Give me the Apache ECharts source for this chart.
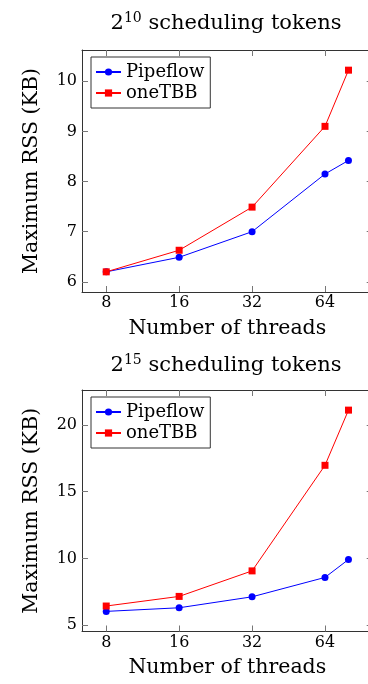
<!DOCTYPE html>
<html>
<head>
<meta charset="utf-8">
<script src="https://cdn.jsdelivr.net/npm/echarts@6/dist/echarts.min.js"></script>
<style>
html,body{margin:0;padding:0;background:#fff;}
#chart{width:368px;height:684px;}
</style>
</head>
<body>
<div id="chart"></div>
<script>
// ---- data ----
const threads = [8, 16, 32, 64, 80];
const pipeflow10 = [6.2, 6.49, 7.0, 8.15, 8.42];
const onetbb10 = [6.2, 6.63, 7.49, 9.1, 10.22];
const pipeflow15 = [6.04, 6.31, 7.13, 8.58, 9.92];
const onetbb15 = [6.44, 7.16, 9.07, 16.97, 21.1];
const xTicks = [8, 16, 32, 64];
const yTicks10 = [6, 7, 8, 9, 10];
const yTicks15 = [5, 10, 15, 20];
const seriesNames = ['Pipeflow', 'oneTBB'];
const titles = [['2', '10', ' scheduling tokens'], ['2', '15', ' scheduling tokens']];
const xName = 'Number of threads';
const yName = 'Maximum RSS (KB)';

const FONT = 'DejaVu Serif';

function enlarge(vals) {
  const lo = Math.min.apply(null, vals), hi = Math.max.apply(null, vals);
  const d = (hi - lo) * 0.1;
  return [lo - d, hi + d];
}
const lx = enlarge(threads.map(v => Math.log2(v)));
const xMin = Math.pow(2, lx[0]), xMax = Math.pow(2, lx[1]);

const panels = [
  { p: pipeflow10, o: onetbb10, yt: yTicks10, top: 50, height: 242, title: titles[0], titleY: 24, legendTop: 57 },
  { p: pipeflow15, o: onetbb15, yt: yTicks15, top: 390, height: 241.5, title: titles[1], titleY: 366, legendTop: 397 }
];

const grid = [], xAxis = [], yAxis = [], series = [], legend = [], graphic = [];
const lineColor = '#333';
const tickColor = '#777';

panels.forEach((pn, i) => {
  grid.push({ left: 82, top: pn.top, width: 290.7, height: pn.height, containLabel: false, outerBoundsMode: 'none' });
  const yr = enlarge(pn.p.concat(pn.o));
  const baseX = {
    gridIndex: i, type: 'log', logBase: 2, min: xMin, max: xMax,
    axisLine: { show: true, onZero: false, lineStyle: { color: lineColor, width: 1 } },
    axisTick: { show: true, inside: true, length: 6, customValues: xTicks, lineStyle: { color: tickColor, width: 1 } },
    splitLine: { show: false }, minorTick: { show: false }
  };
  xAxis.push(Object.assign({}, baseX, {
    position: 'bottom',
    name: xName, nameLocation: 'middle', nameGap: 26,
    nameTextStyle: { fontFamily: FONT, fontSize: 20.5, color: '#000' },
    axisLabel: {
      show: true, margin: 3, customValues: xTicks,
      fontFamily: FONT, fontSize: 16, color: '#000',
      formatter: v => String(Math.round(v))
    }
  }));
  xAxis.push(Object.assign({}, baseX, { position: 'top', axisLabel: { show: false } }));
  const baseY = {
    gridIndex: i, type: 'value', min: yr[0], max: yr[1],
    axisLine: { show: true, onZero: false, lineStyle: { color: lineColor, width: 1 } },
    axisTick: { show: true, inside: true, length: 6, customValues: pn.yt, lineStyle: { color: tickColor, width: 1 } },
    splitLine: { show: false }
  };
  yAxis.push(Object.assign({}, baseY, {
    position: 'left',
    name: yName, nameLocation: 'middle', nameGap: 40, nameRotate: 90,
    nameTextStyle: { fontFamily: FONT, fontSize: 20.5, color: '#000' },
    axisLabel: {
      show: true, margin: 5, customValues: pn.yt,
      fontFamily: FONT, fontSize: 16, color: '#000',
      formatter: v => String(Math.round(v * 100) / 100)
    }
  }));
  yAxis.push(Object.assign({}, baseY, { position: 'right', axisLabel: { show: false } }));

  const xi = i * 2, yi = i * 2;
  series.push({
    name: seriesNames[0], type: 'line', xAxisIndex: xi, yAxisIndex: yi,
    data: threads.map((t, k) => [t, pn.p[k]]),
    symbol: 'circle', symbolSize: 7,
    itemStyle: { color: '#0000ff' },
    lineStyle: { color: '#0000ff', width: 1 },
    animation: false
  });
  series.push({
    name: seriesNames[1], type: 'line', xAxisIndex: xi, yAxisIndex: yi,
    data: threads.map((t, k) => [t, pn.o[k]]),
    symbol: 'rect', symbolSize: 7,
    itemStyle: { color: '#ff0000' },
    lineStyle: { color: '#ff0000', width: 1 },
    animation: false
  });

  legend.push({
    data: seriesNames, orient: 'vertical', left: 91, top: pn.legendTop,
    borderColor: '#333', borderWidth: 1, borderRadius: 0,
    padding: [6, 6, 6, 4], itemWidth: 25, itemHeight: 9, itemGap: 3,
    textStyle: { fontFamily: FONT, fontSize: 18, color: '#000' },
    selectedMode: false
  });

  graphic.push({
    type: 'text', x: 226, y: pn.titleY,
    style: {
      text: '{a|' + pn.title[0] + '}{s|' + pn.title[1] + '}{a|' + pn.title[2] + '}',
      align: 'center', verticalAlign: 'middle',
      rich: {
        a: { fontFamily: FONT, fontSize: 21, lineHeight: 26, fill: '#000', color: '#000' },
        s: { fontFamily: FONT, fontSize: 14, lineHeight: 16, verticalAlign: 'top', fill: '#000', color: '#000' }
      }
    }
  });
});

const chart = echarts.init(document.getElementById('chart'), null, { renderer: 'canvas' });
chart.setOption({
  animation: false,
  backgroundColor: '#fff',
  grid, xAxis, yAxis, series, legend, graphic
});
</script>
</body>
</html>
